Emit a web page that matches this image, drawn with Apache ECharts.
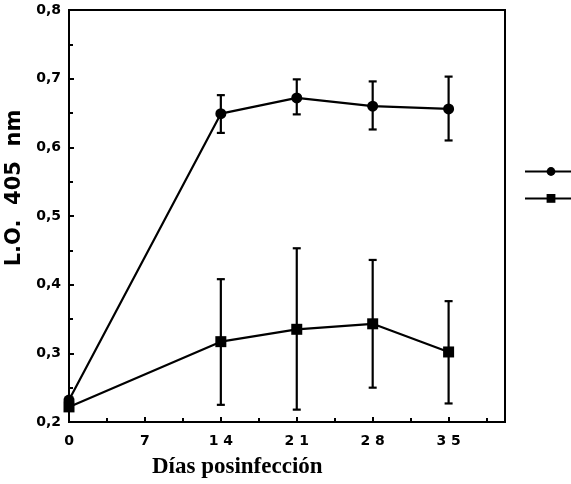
<!DOCTYPE html>
<html><head><meta charset="utf-8">
<script src="https://cdn.jsdelivr.net/npm/echarts@6/dist/echarts.min.js"></script>
<style>html,body{margin:0;padding:0;background:#fff}#c{width:571px;height:484px}</style>
</head><body><div id="c"></div>
<script>
const days = [0, 14, 21, 28, 35];
const circleMean = [0.232, 0.649, 0.672, 0.660, 0.656];
const circleLow  = [null, 0.621, 0.648, 0.626, 0.610];
const circleHigh = [null, 0.676, 0.699, 0.696, 0.703];
const squareMean = [0.222, 0.317, 0.335, 0.343, 0.302];
const squareLow  = [null, 0.225, 0.218, 0.250, 0.227];
const squareHigh = [null, 0.408, 0.453, 0.436, 0.376];
const yTicks = ['0,2','0,3','0,4','0,5','0,6','0,7','0,8'];
const xTitle = 'Días posinfección';
const yTitle = 'L.O.  405  nm';

const chart = echarts.init(document.getElementById('c'));
function errData(lo, hi){
  const out=[];
  days.forEach((d,i)=>{ if(lo[i]!=null) out.push([d, lo[i], hi[i]]); });
  return out;
}
function errRender(params, api){
  const x=api.value(0), lo=api.coord([x, api.value(1)]), hi=api.coord([x, api.value(2)]);
  const w=4;
  const st={stroke:'#000', lineWidth:2.2};
  return {type:'group', children:[
    {type:'line', shape:{x1:lo[0],y1:lo[1],x2:hi[0],y2:hi[1]}, style:st},
    {type:'line', shape:{x1:lo[0]-w,y1:lo[1],x2:lo[0]+w,y2:lo[1]}, style:st},
    {type:'line', shape:{x1:hi[0]-w,y1:hi[1],x2:hi[0]+w,y2:hi[1]}, style:st}
  ]};
}
const lab = {fontFamily:'DejaVu Sans, sans-serif', fontWeight:'bold', fontSize:14, color:'#000'};
chart.setOption({
  backgroundColor:'#fff',
  animation:false,
  grid:{left:69, right:66, top:10, bottom:62, show:true, borderColor:'#000', borderWidth:2},
  legend:{
    orient:'vertical', left:519, top:161, itemWidth:52, itemHeight:11, itemGap:17,
    data:['A','B'], formatter:()=>'', textStyle:{fontSize:1}
  },
  xAxis:{
    type:'value', min:0, max:40.2, interval:7,
    axisLine:{lineStyle:{color:'#000', width:2}},
    axisTick:{inside:true, length:5, lineStyle:{color:'#000', width:2}},
    minorTick:{show:true, splitNumber:2, length:4, lineStyle:{color:'#000', width:2}},
    splitLine:{show:false},
    axisLabel:Object.assign({margin:12, showMaxLabel:false,
      formatter:v=> (v%7===0 && v<=35) ? String(v).split('').join(' ') : ''}, lab)
  },
  yAxis:{
    type:'value', min:0.2, max:0.8, interval:0.1,
    axisLine:{lineStyle:{color:'#000', width:2}},
    axisTick:{inside:true, length:5, lineStyle:{color:'#000', width:2}},
    minorTick:{show:true, splitNumber:2, length:4, lineStyle:{color:'#000', width:2}},
    splitLine:{show:false},
    axisLabel:Object.assign({margin:8, formatter:v=> yTicks[Math.round((v-0.2)*10)]}, lab)
  },
  graphic:[
    {type:'text', left:152, top:456, style:{text:xTitle, fontFamily:'Liberation Serif, Times New Roman, serif', fontWeight:'bold', fontSize:23, fill:'#000'}},
    {type:'text', x:15, y:188, rotation:Math.PI/2, style:{text:yTitle, align:'center', verticalAlign:'middle', fontFamily:'DejaVu Sans, sans-serif', fontWeight:'bold', fontSize:21, fill:'#000'}}
  ],
  series:[
    {name:'A', type:'line', data:days.map((d,i)=>[d,circleMean[i]]), symbol:'circle', symbolSize:11,
     itemStyle:{color:'#000'}, lineStyle:{color:'#000', width:2.2}, z:5},
    {name:'B', type:'line', data:days.map((d,i)=>[d,squareMean[i]]), symbol:'rect', symbolSize:11,
     itemStyle:{color:'#000'}, lineStyle:{color:'#000', width:2.2}, z:5},
    {type:'custom', renderItem:errRender, data:errData(circleLow,circleHigh), z:4},
    {type:'custom', renderItem:errRender, data:errData(squareLow,squareHigh), z:4}
  ]
});
</script></body></html>
